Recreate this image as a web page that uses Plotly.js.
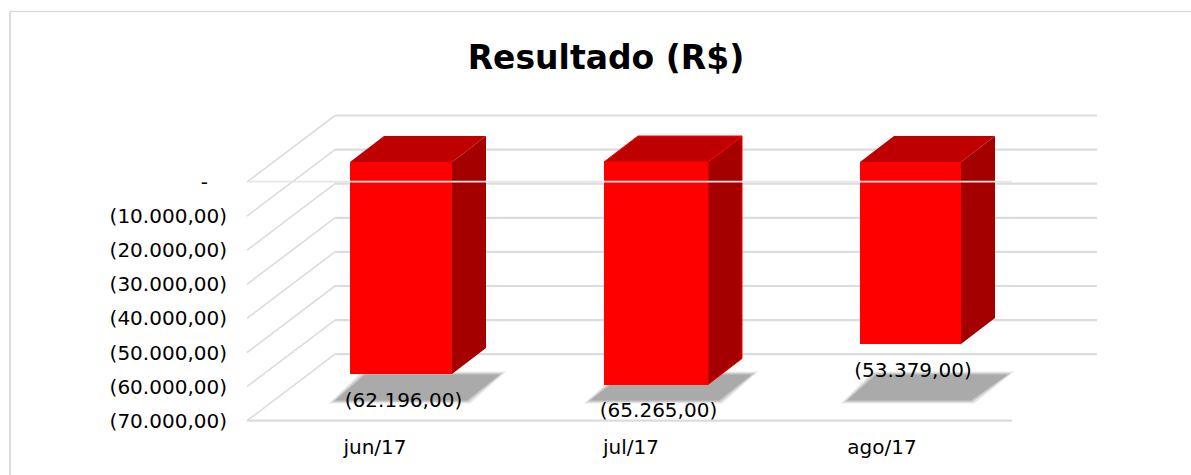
<!DOCTYPE html>
<html><head><meta charset="utf-8">
<script src="https://cdn.plot.ly/plotly-3.0.1.min.js"></script>
<style>html,body{margin:0;padding:0;background:#fff;overflow:hidden}#c{width:1191px;height:475px}</style>
</head><body><div id="c"></div>
<script>
const categories=['jun/17','jul/17','ago/17'];
const results=[-62196,-65265,-53379];
const resultLabels=['(62.196,00)','(65.265,00)','(53.379,00)'];
const tickValues=[0,-10000,-20000,-30000,-40000,-50000,-60000,-70000];
const tickLabels=['-\u00a0\u00a0\u00a0','(10.000,00)','(20.000,00)','(30.000,00)','(40.000,00)','(50.000,00)','(60.000,00)','(70.000,00)'];

const centers=[401,656,910.5];
const barWidths=[102,104,101];
const edgeColors=['rgba(0,0,0,0)','#ff0000','rgba(0,0,0,0)'];
const U=1000/3.41;           // value units per pixel
const PX=(p)=>p*U;
const yZero=182, plotBottom=424, plotLeft=228;
const font='"DejaVu Sans", Verdana, sans-serif';
const labelSize=20;

const frontTop=PX(20);       // bar tops sit 20 px above the zero line (3D projection)
const depthX=34, depthY=PX(26);
const wallX=88, wallY=PX(66.5);
const leftX=247, rightFront=1012, rightBack=1097;

const grid='#dcdcdc';
const shapes=[];
function seg(x0,y0,x1,y1,color,w){shapes.push({type:'line',layer:'below',xref:'x',yref:'y',x0,y0,x1,y1,line:{color:color||grid,width:w||2}});}
tickValues.forEach(v=>{
  seg(leftX,v,leftX+wallX,v+wallY,grid,1.6);
  seg(leftX+wallX,v+wallY,rightBack,v+wallY,grid,2.2);
});
seg(leftX,-70000,rightFront,-70000,grid,2.2);

// soft floor shadows
const shadowBottom=PX(yZero-403.5), shadowTop=PX(yZero-371.5);
const shadowLeft=[329,584,841], shadowRightTop=[506,758,1014], shadowRightBottom=[470,722,974], shadowLeftTop=[362,620,873];
[[0,.28],[1.5,.45],[3,.85]].forEach(([p,a])=>{
  categories.forEach((c,i)=>{
    shapes.push({type:'path',layer:'below',xref:'x',yref:'y',line:{width:0},fillcolor:`rgba(165,165,165,${a})`,
      path:`M${shadowLeft[i]+p*2},${shadowBottom+PX(p)} L${shadowLeftTop[i]+p},${shadowTop-PX(p)} L${shadowRightTop[i]-p*2},${shadowTop-PX(p)} L${shadowRightBottom[i]-p},${shadowBottom+PX(p)} Z`});
  });
});

// card border: left edge and top edge only, open toward the right and the bottom
const paperX=p=>(p-plotLeft)/(1191-plotLeft), paperY=p=>(plotBottom-p)/plotBottom;
shapes.push({type:'line',layer:'below',xref:'paper',yref:'paper',x0:paperX(10),x1:paperX(10),y0:paperY(11.5),y1:paperY(475),line:{color:'#dcdcdc',width:2}});
shapes.push({type:'line',layer:'below',xref:'paper',yref:'paper',x0:paperX(10),x1:paperX(1191),y0:paperY(11.5),y1:paperY(11.5),line:{color:'#dcdcdc',width:1.6}});

const traces=[];
traces.push({type:'bar',x:centers,y:results,base:frontTop,width:barWidths,marker:{color:'#ff0000',line:{width:0}},hoverinfo:'skip',showlegend:false});
categories.forEach((c,i)=>{
  const l=centers[i]-barWidths[i]/2,r=centers[i]+barWidths[i]/2,b=frontTop+results[i];
  traces.push({type:'scatter',mode:'lines',x:[r,r+depthX,r+depthX,r,r],y:[frontTop,frontTop+depthY,b+depthY,b,frontTop],fill:'toself',fillcolor:'#a40000',line:{width:1,color:edgeColors[i]},hoverinfo:'skip',showlegend:false});
  traces.push({type:'scatter',mode:'lines',x:[l,l+depthX,r+depthX,r,l],y:[frontTop,frontTop+depthY,frontTop+depthY,frontTop,frontTop],fill:'toself',fillcolor:'#bf0000',line:{width:1,color:edgeColors[i]},hoverinfo:'skip',showlegend:false});
});
// zero line crossing in front of the bars
traces.push({type:'scatter',mode:'lines',x:[leftX,rightFront],y:[PX(0.3),PX(0.3)],line:{color:'#e6e6e6',width:1.8},hoverinfo:'skip',showlegend:false});
// data labels
traces.push({type:'scatter',mode:'text',x:centers.map(c=>c+2.5),y:results.map(v=>v+frontTop-PX(27.5)),text:resultLabels,textposition:'middle center',textfont:{family:font,size:labelSize,color:'#000'},cliponaxis:false,hoverinfo:'skip',showlegend:false});

const layout={
  width:1191,height:475,paper_bgcolor:'#fff',plot_bgcolor:'rgba(0,0,0,0)',
  margin:{l:plotLeft,r:0,t:0,b:475-plotBottom},bargap:0,showlegend:false,
  title:{text:'<b>Resultado (R$)</b>',x:606/1191,xanchor:'center',y:1-57/475,yanchor:'middle',font:{family:font,size:33,color:'#000'}},
  xaxis:{range:[plotLeft,1191],tickmode:'array',tickvals:[375,631,882],ticktext:categories,showgrid:false,zeroline:false,showline:false,ticks:'',ticklen:0,tickfont:{family:font,size:labelSize,color:'#000'},fixedrange:true,ticklabelstandoff:9},
  yaxis:{range:[PX(yZero-plotBottom),PX(yZero)],tickmode:'array',tickvals:tickValues,ticktext:tickLabels,showgrid:false,zeroline:false,showline:false,ticks:'',tickfont:{family:font,size:labelSize,color:'#000'},fixedrange:true,automargin:false},
  shapes:shapes
};
Plotly.newPlot('c',traces,layout,{displayModeBar:false,staticPlot:true});
</script></body></html>
